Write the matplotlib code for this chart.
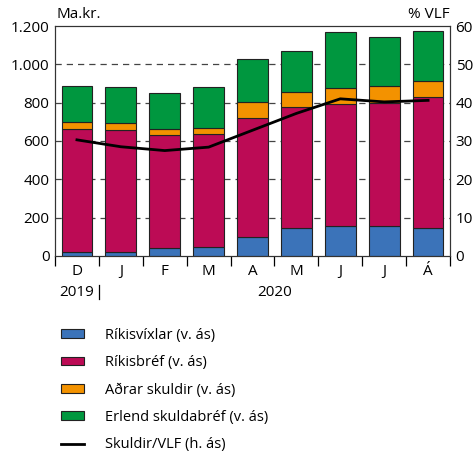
import numpy as np
import matplotlib.pyplot as plt
from matplotlib.patches import Patch
from matplotlib.lines import Line2D
import matplotlib.transforms as mtransforms

plt.rcParams['font.family'] = ['Open Sans', 'DejaVu Sans']

months = ['D', 'J', 'F', 'M', 'A', 'M', 'J', 'J', 'Á']
rikisvixlar = [23, 23, 42, 45, 98, 146, 155, 156, 146]
rikisbref = [641, 636, 589, 591, 624, 631, 636, 643, 683]
adrar = [33, 33, 32, 34, 83, 80, 84, 90, 85]
erlend = [189, 190, 190, 212, 221, 211, 293, 255, 260]
skuldir_vlf = [30.3, 28.5, 27.5, 28.4, 32.8, 37.2, 41.0, 40.2, 40.6]

labels = ['Ríkisvíxlar (v. ás)', 'Ríkisbréf (v. ás)', 'Aðrar skuldir (v. ás)',
          'Erlend skuldabréf (v. ás)', 'Skuldir/VLF (h. ás)']
colors = ['#3b73b9', '#bc0b55', '#f39200', '#00973f']

fig = plt.figure(figsize=(4.75, 4.53), dpi=100)
ax = fig.add_axes([0.1158, 0.4349, 0.8316, 0.5077])
ax2 = ax.twinx()

x = np.arange(len(months))
bottom = np.zeros(len(months))
for vals, c in zip([rikisvixlar, rikisbref, adrar, erlend], colors):
    ax.bar(x, vals, 0.7, bottom=bottom, color=c, edgecolor='#222222',
           linewidth=0.8, zorder=3)
    bottom += np.array(vals)

ax.set_ylim(0, 1200)
ax.set_xlim(-0.5, len(months) - 0.5)
ax.set_yticks(range(0, 1201, 200))
ax.set_yticklabels(['0', '200', '400', '600', '800', '1.000', '1.200'])
for v in range(200, 1001, 200):
    ax.axhline(v, color='#444444', lw=0.9, ls=(0, (5, 4)), zorder=1)

ax2.plot(x, skuldir_vlf, color='black', lw=2.0, zorder=5)
ax2.set_ylim(0, 60)
ax2.set_yticks(range(0, 61, 10))
ax.set_zorder(1)
ax.patch.set_visible(False)
ax2.set_zorder(2)

ax.set_xticks(x)
ax.set_xticklabels(months)
ax.set_xticks(np.arange(-0.5, len(months), 1.0), minor=True)
ax.tick_params(axis='x', which='major', length=0, pad=6, labelsize=11)
ax.tick_params(axis='x', which='minor', length=7, direction='out', width=0.9)
ax.tick_params(axis='y', length=0, labelsize=11, pad=4)
ax2.tick_params(axis='y', length=0, labelsize=11, pad=4)
for a in (ax, ax2):
    for s in a.spines.values():
        s.set_linewidth(0.8)
        s.set_color('#333333')

trans = mtransforms.blended_transform_factory(ax.transData, ax.transAxes)
ax.text(0, -0.16, '2019', transform=trans, ha='center', va='center', fontsize=11)
ax.text(4.5, -0.16, '2020', transform=trans, ha='center', va='center', fontsize=11)
ax.plot([0.5, 0.5], [-0.125, -0.185], transform=trans, color='black', lw=0.9,
        clip_on=False)

fig.text(57 / 475, 1 - 15 / 453, 'Ma.kr.', ha='left', va='center', fontsize=11)
fig.text(450 / 475, 1 - 15 / 453, '% VLF', ha='right', va='center', fontsize=11)

handles = [Patch(facecolor=c, edgecolor='#222222', linewidth=0.8) for c in colors]
handles.append(Line2D([0], [0], color='black', lw=2.0))
fig.legend(handles, labels, loc='upper left', bbox_to_anchor=(55 / 475, 1 - 322 / 453),
           frameon=False, fontsize=10.5, handlelength=1.6, handleheight=0.55,
           handletextpad=1.45, labelspacing=0.85, borderaxespad=0)

fig.savefig('out.png', dpi=100)
